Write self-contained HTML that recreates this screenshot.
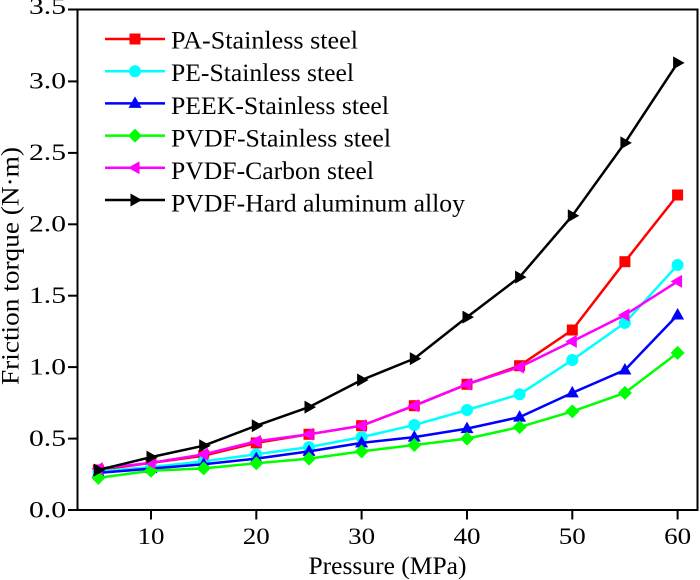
<!DOCTYPE html>
<html><head><meta charset="utf-8"><style>
html,body{margin:0;padding:0;background:#fff;}
svg{display:block;}
text{font-family:"Liberation Serif","Times New Roman",serif;fill:#000;}
</style></head><body>
<svg width="700" height="580" viewBox="0 0 700 580" xmlns="http://www.w3.org/2000/svg">
<defs>
<marker id="mSq" markerWidth="16" markerHeight="16" refX="8" refY="8" markerUnits="userSpaceOnUse" overflow="visible"><rect x="2.5" y="2.5" width="11" height="11" fill="#ff0000"/></marker>
<marker id="mCi" markerWidth="16" markerHeight="16" refX="8" refY="8" markerUnits="userSpaceOnUse" overflow="visible"><circle cx="8" cy="8" r="6" fill="#00ffff"/></marker>
<marker id="mUp" markerWidth="16" markerHeight="16" refX="8" refY="8" markerUnits="userSpaceOnUse" overflow="visible"><polygon points="8,1 1.5,12.5 14.5,12.5" fill="#0000ff"/></marker>
<marker id="mDi" markerWidth="16" markerHeight="16" refX="8" refY="8" markerUnits="userSpaceOnUse" overflow="visible"><polygon points="8,1 15,8 8,15 1,8" fill="#00ff00"/></marker>
<marker id="mLe" markerWidth="16" markerHeight="16" refX="8" refY="8" markerUnits="userSpaceOnUse" overflow="visible"><polygon points="1,8 12.5,1.5 12.5,14.5" fill="#ff00ff"/></marker>
<marker id="mRi" markerWidth="16" markerHeight="16" refX="8" refY="8" markerUnits="userSpaceOnUse" overflow="visible"><polygon points="15,8 3.5,1.5 3.5,14.5" fill="#000000"/></marker>
</defs>

<rect x="77.5" y="9.5" width="620" height="500.5" fill="none" stroke="#000" stroke-width="2"/>

<g stroke="#000" stroke-width="2">
<line x1="68" y1="510" x2="77.5" y2="510"/>
<line x1="68" y1="438.6" x2="77.5" y2="438.6"/>
<line x1="68" y1="367.1" x2="77.5" y2="367.1"/>
<line x1="68" y1="295.7" x2="77.5" y2="295.7"/>
<line x1="68" y1="224.3" x2="77.5" y2="224.3"/>
<line x1="68" y1="152.9" x2="77.5" y2="152.9"/>
<line x1="68" y1="81.4" x2="77.5" y2="81.4"/>
<line x1="68" y1="9.5" x2="77.5" y2="9.5"/>
</g>
<g stroke="#000" stroke-width="2">
<line x1="151" y1="510" x2="151" y2="519.5"/>
<line x1="256.3" y1="510" x2="256.3" y2="519.5"/>
<line x1="361.6" y1="510" x2="361.6" y2="519.5"/>
<line x1="467" y1="510" x2="467" y2="519.5"/>
<line x1="572.3" y1="510" x2="572.3" y2="519.5"/>
<line x1="677.6" y1="510" x2="677.6" y2="519.5"/>
</g>

<g font-size="23" text-anchor="end">
<text x="66" y="517.5" textLength="37" lengthAdjust="spacingAndGlyphs">0.0</text>
<text x="66" y="446" textLength="37" lengthAdjust="spacingAndGlyphs">0.5</text>
<text x="66" y="374.5" textLength="37" lengthAdjust="spacingAndGlyphs">1.0</text>
<text x="66" y="303" textLength="37" lengthAdjust="spacingAndGlyphs">1.5</text>
<text x="66" y="231.6" textLength="37" lengthAdjust="spacingAndGlyphs">2.0</text>
<text x="66" y="160.2" textLength="37" lengthAdjust="spacingAndGlyphs">2.5</text>
<text x="66" y="88.7" textLength="37" lengthAdjust="spacingAndGlyphs">3.0</text>
<text x="66" y="14" textLength="37" lengthAdjust="spacingAndGlyphs">3.5</text>
</g>
<g font-size="23" text-anchor="middle">
<text x="151" y="544" textLength="27" lengthAdjust="spacingAndGlyphs">10</text>
<text x="256.3" y="544" textLength="27" lengthAdjust="spacingAndGlyphs">20</text>
<text x="361.6" y="544" textLength="27" lengthAdjust="spacingAndGlyphs">30</text>
<text x="467" y="544" textLength="27" lengthAdjust="spacingAndGlyphs">40</text>
<text x="572.3" y="544" textLength="27" lengthAdjust="spacingAndGlyphs">50</text>
<text x="677.6" y="544" textLength="27" lengthAdjust="spacingAndGlyphs">60</text>
</g>

<text x="387.5" y="574" font-size="25" text-anchor="middle" textLength="158" lengthAdjust="spacingAndGlyphs">Pressure (MPa)</text>
<text transform="translate(18.5,266) rotate(-90)" font-size="25" text-anchor="middle" textLength="238" lengthAdjust="spacingAndGlyphs">Friction torque (N·m)</text>

<g fill="none" stroke-width="2.5" stroke-linejoin="round">
<polyline stroke="#ff0000" marker-start="url(#mSq)" marker-mid="url(#mSq)" marker-end="url(#mSq)"
 points="98.35,470 151,462.9 203.7,455.7 256.3,442.9 309,434.3 361.6,425.7 414.3,405.7 467,384.3 519.6,365.7 572.3,330 624.9,261.7 677.6,195"/>
<polyline stroke="#00ffff" marker-start="url(#mCi)" marker-mid="url(#mCi)" marker-end="url(#mCi)"
 points="98.35,471.4 151,467.1 203.7,461.4 256.3,454.3 309,447.1 361.6,437.1 414.3,425 467,410 519.6,394.3 572.3,360 624.9,322.9 677.6,265"/>
<polyline stroke="#0000ff" marker-start="url(#mUp)" marker-mid="url(#mUp)" marker-end="url(#mUp)"
 points="98.35,472.9 151,468.6 203.7,464.3 256.3,458.6 309,451.4 361.6,442.9 414.3,437.1 467,428.6 519.6,417.1 572.3,392.9 624.9,370 677.6,315"/>
<polyline stroke="#00ff00" marker-start="url(#mDi)" marker-mid="url(#mDi)" marker-end="url(#mDi)"
 points="98.35,477.9 151,470.7 203.7,468.4 256.3,463.3 309,458.6 361.6,451.4 414.3,445 467,438.6 519.6,427.1 572.3,411.4 624.9,392.9 677.6,352.9"/>
<polyline stroke="#ff00ff" marker-start="url(#mLe)" marker-mid="url(#mLe)" marker-end="url(#mLe)"
 points="98.35,468.6 151,462.9 203.7,454.3 256.3,441.4 309,434.3 361.6,425.7 414.3,405.7 467,384.3 519.6,367.1 572.3,341.4 624.9,315 677.6,281.4"/>
<polyline stroke="#000000" marker-start="url(#mRi)" marker-mid="url(#mRi)" marker-end="url(#mRi)"
 points="98.35,470 151,457.1 203.7,445.7 256.3,425.7 309,407.1 361.6,380 414.3,358.6 467,317.1 519.6,277.1 572.3,215.7 624.9,142.9 677.6,62.9"/>
</g>

<g fill="none" stroke-width="2.5">
<polyline stroke="#ff0000" marker-mid="url(#mSq)" points="105,39 135,39 165,39"/>
<polyline stroke="#00ffff" marker-mid="url(#mCi)" points="105,71.2 135,71.2 165,71.2"/>
<polyline stroke="#0000ff" marker-mid="url(#mUp)" points="105,103.4 135,103.4 165,103.4"/>
<polyline stroke="#00ff00" marker-mid="url(#mDi)" points="105,135.6 135,135.6 165,135.6"/>
<polyline stroke="#ff00ff" marker-mid="url(#mLe)" points="105,167.8 135,167.8 165,167.8"/>
<polyline stroke="#000000" marker-mid="url(#mRi)" points="105,200 135,200 165,200"/>
</g>
<g font-size="25.5">
<text x="171" y="48.5" textLength="187" lengthAdjust="spacingAndGlyphs">PA-Stainless steel</text>
<text x="171" y="81.1" textLength="183" lengthAdjust="spacingAndGlyphs">PE-Stainless steel</text>
<text x="171" y="113.8" textLength="218" lengthAdjust="spacingAndGlyphs">PEEK-Stainless steel</text>
<text x="171" y="146.4" textLength="220" lengthAdjust="spacingAndGlyphs">PVDF-Stainless steel</text>
<text x="171" y="179.1" textLength="203" lengthAdjust="spacingAndGlyphs">PVDF-Carbon steel</text>
<text x="171" y="211.7" textLength="294" lengthAdjust="spacingAndGlyphs">PVDF-Hard aluminum alloy</text>
</g>
</svg>
</body></html>
